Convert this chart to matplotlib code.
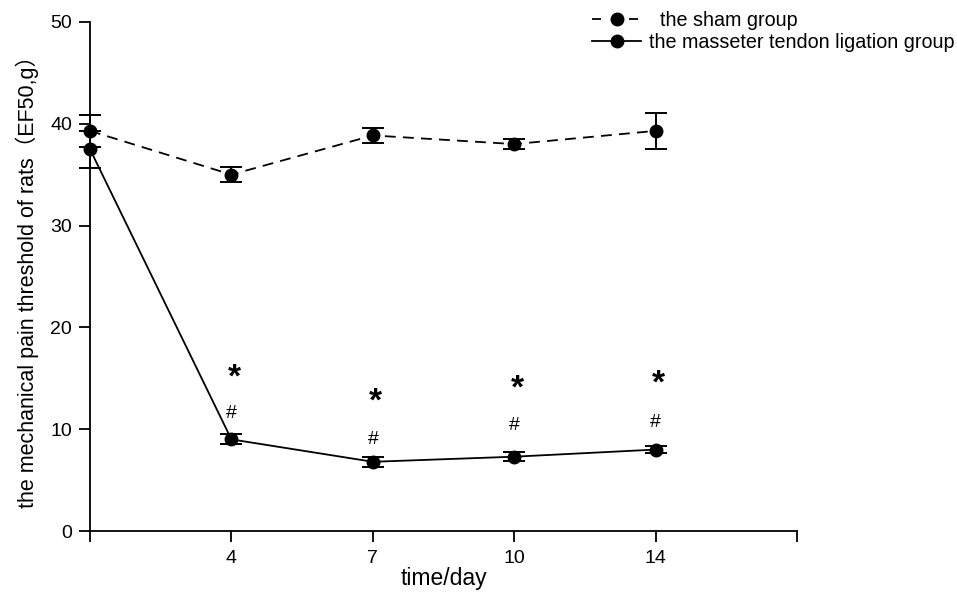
import matplotlib
matplotlib.use('Agg')
import matplotlib.pyplot as plt
from matplotlib.lines import Line2D
import numpy as np

plt.rcParams['font.family'] = ['Liberation Sans', 'Noto Sans CJK SC', 'DejaVu Sans']

# data
days = ['0', '4', '7', '10', '14']
tick_labels = ['', '4', '7', '10', '14', '']
sham_mean = [39.3, 35.0, 38.85, 38.0, 39.3]
sham_err = [1.6, 0.75, 0.75, 0.5, 1.8]
lig_mean = [37.5, 9.0, 6.8, 7.3, 8.0]
lig_err = [1.8, 0.5, 0.5, 0.45, 0.35]
star_y = [15.6, 13.3, 14.6, 15.0]
hash_y = [11.5, 9.0, 10.4, 10.7]

x = np.arange(len(days))

fig = plt.figure(figsize=(9.57, 5.92), dpi=100)
ax = fig.add_axes([0.094, 0.103, 0.739, 0.860])

ax.errorbar(x, sham_mean, yerr=sham_err, color='black', ls=(0, (6, 4)), lw=1.3,
            marker='o', ms=9, capsize=8, capthick=1.4, elinewidth=1.4,
            clip_on=False, zorder=3)
ax.errorbar(x, lig_mean, yerr=lig_err, color='black', ls='-', lw=1.3,
            marker='o', ms=9, capsize=8, capthick=1.4, elinewidth=1.4,
            clip_on=False, zorder=3)

for i in range(1, len(days)):
    # asterisk glyph sits high in its box, nudge it down
    ax.annotate('*', (x[i], star_y[i - 1]), xytext=(2, -4.5), textcoords='offset points',
                ha='center', va='center', fontsize=24, fontweight='bold')
    ax.annotate('#', (x[i], hash_y[i - 1]), xytext=(0, 0), textcoords='offset points',
                ha='center', va='center', fontsize=14)

ax.set_xlim(0, 5)
ax.set_ylim(0, 50)
ax.set_xticks(np.arange(6))
ax.set_xticklabels(tick_labels)
ax.set_yticks(np.arange(0, 51, 10))
ax.spines['top'].set_visible(False)
ax.spines['right'].set_visible(False)
ax.tick_params(direction='out', length=8, width=1.3, labelsize=14)
ax.tick_params(axis='y', pad=5)
ax.tick_params(axis='x', pad=6)
for s in ['left', 'bottom']:
    ax.spines[s].set_linewidth(1.3)

ax.set_xlabel('time/day', fontsize=16.5, labelpad=0)
ax.set_ylabel('the mechanical pain threshold of rats（EF50,g）', fontsize=15.5, labelpad=8)

handles = [
    Line2D([], [], color='black', ls=(0, (5, 15.5)), lw=1.3, marker='o', ms=9),
    Line2D([], [], color='black', ls='-', lw=1.3, marker='o', ms=9),
]
labels = ['  the sham group', 'the masseter tendon ligation group']
ax.legend(handles, labels, loc='upper right', bbox_to_anchor=(1.012, 1.005),
          bbox_transform=fig.transFigure, frameon=False, fontsize=14.2,
          handlelength=2.5, borderpad=0.2, labelspacing=0.15, handletextpad=0.4)

fig.savefig('out.png', dpi=100)
